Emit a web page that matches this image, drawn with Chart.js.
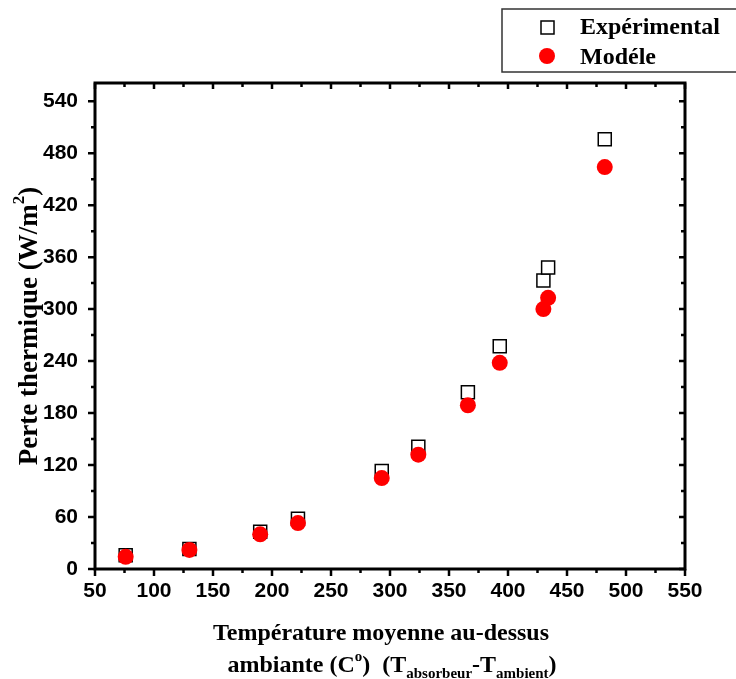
<!DOCTYPE html>
<html>
<head>
<meta charset="utf-8">
<script src="https://cdn.jsdelivr.net/npm/chart.js@4.4.1/dist/chart.umd.min.js"></script>
<style>
  html, body { margin: 0; padding: 0; background: #fff; }
  #wrap { width: 736px; height: 679px; }
</style>
</head>
<body>
<div id="wrap"><canvas id="lossChart" width="736" height="679"></canvas></div>
<script>
const tempDiff = [76, 130, 190, 222, 293, 324, 366, 393, 430, 434, 482];
const experimental = [16, 23, 43, 58, 113, 141, 204, 257, 333, 348, 496];
const modele = [14, 22, 40, 53, 105, 132, 189, 238, 300, 313, 464];
const xTicks = [50, 100, 150, 200, 250, 300, 350, 400, 450, 500, 550];
const yTicks = [0, 60, 120, 180, 240, 300, 360, 420, 480, 540];

const tickFont = { family: 'Liberation Sans', size: 21, weight: 'bold' };
const titleFont = 'bold 24px "Liberation Serif"';
const yTitleFont = 'bold 27px "Liberation Serif"';
const legendFont = 'bold 24px "Liberation Serif"';

// draws text pieces one after the other, some raised or lowered
function drawPieces(ctx, pieces, x, y, align) {
    let total = 0;
    pieces.forEach(p => {
        ctx.font = p.font;
        p.w = ctx.measureText(p.text).width;
        total += p.w;
    });
    let cx = align === 'center' ? x - total / 2 : x;
    pieces.forEach(p => {
        ctx.font = p.font;
        ctx.fillText(p.text, cx, y + (p.dy || 0));
        cx += p.w;
    });
}

const framePlugin = {
    id: 'frame',
    beforeDatasetsDraw(chart) {
        const { ctx, chartArea: a, scales } = chart;
        ctx.save();
        ctx.strokeStyle = '#000';
        ctx.lineWidth = 3;
        ctx.strokeRect(a.left, a.top, a.right - a.left, a.bottom - a.top);
        ctx.lineWidth = 2.5;
        ctx.beginPath();
        for (let v = 50; v <= 550; v += 25) {
            const px = scales.x.getPixelForValue(v);
            const major = v % 50 === 0;
            ctx.moveTo(px, a.bottom);
            ctx.lineTo(px, a.bottom + (major ? 7 : 4));
            ctx.moveTo(px, a.top);
            ctx.lineTo(px, a.top + (major ? 6 : 4));
        }
        for (let v = 0; v <= 540; v += 30) {
            const py = scales.y.getPixelForValue(v);
            const major = v % 60 === 0;
            ctx.moveTo(a.left, py);
            ctx.lineTo(a.left - (major ? 7 : 4), py);
            ctx.moveTo(a.right, py);
            ctx.lineTo(a.right - (major ? 6 : 4), py);
        }
        ctx.stroke();
        ctx.restore();
    },
    afterDraw(chart) {
        const { ctx } = chart;
        const small = 'bold 15px "Liberation Serif"';
        const ySmall = 'bold 17px "Liberation Serif"';
        ctx.save();
        ctx.fillStyle = '#000';
        ctx.textBaseline = 'alphabetic';

        // x title, two lines
        ctx.font = titleFont;
        ctx.textAlign = 'center';
        ctx.fillText('Température moyenne au-dessus', 381, 640);
        ctx.textAlign = 'left';
        drawPieces(ctx, [
            { text: 'ambiante (C', font: titleFont },
            { text: 'o', font: small, dy: -11 },
            { text: ')  (T', font: titleFont },
            { text: 'absorbeur', font: small, dy: 6 },
            { text: '-T', font: titleFont },
            { text: 'ambient', font: small, dy: 6 },
            { text: ')', font: titleFont }
        ], 392, 672, 'center');

        // y title, rotated
        ctx.translate(37, 326);
        ctx.rotate(-Math.PI / 2);
        drawPieces(ctx, [
            { text: 'Perte thermique (W/m', font: yTitleFont },
            { text: '2', font: ySmall, dy: -13 },
            { text: ')', font: yTitleFont }
        ], 0, 0, 'center');
        ctx.restore();

        // legend box
        ctx.save();
        ctx.strokeStyle = '#333';
        ctx.lineWidth = 1.5;
        ctx.strokeRect(502, 9, 250, 63);
        ctx.fillStyle = '#fff';
        ctx.strokeStyle = '#000';
        ctx.lineWidth = 1.5;
        ctx.fillRect(541, 21, 13, 13);
        ctx.strokeRect(541, 21, 13, 13);
        ctx.fillStyle = '#ff0000';
        ctx.beginPath();
        ctx.arc(547, 56, 8, 0, Math.PI * 2);
        ctx.fill();
        ctx.fillStyle = '#000';
        ctx.font = legendFont;
        ctx.textAlign = 'left';
        ctx.textBaseline = 'middle';
        ctx.fillText('Expérimental', 580, 28);
        ctx.fillText('Modéle', 580, 58);
        ctx.restore();
    }
};

const ctx = document.getElementById('lossChart').getContext('2d');

new Chart(ctx, {
    type: 'scatter',
    data: {
        datasets: [{
            label: 'Modéle',
            data: tempDiff.map((t, i) => ({ x: t, y: modele[i] })),
            pointStyle: 'circle',
            pointRadius: 8,
            pointHoverRadius: 8,
            backgroundColor: '#ff0000',
            borderColor: '#ff0000',
            borderWidth: 0,
            order: 0
        }, {
            label: 'Expérimental',
            data: tempDiff.map((t, i) => ({ x: t, y: experimental[i] })),
            pointStyle: 'rect',
            pointRadius: 9.2,
            pointHoverRadius: 9.2,
            backgroundColor: '#fff',
            borderColor: '#000',
            borderWidth: 1.5,
            order: 1
        }]
    },
    options: {
        responsive: false,
        animation: false,
        layout: { padding: { left: 0, right: 51, top: 83, bottom: 0 } },
        plugins: {
            legend: { display: false },
            tooltip: { enabled: false }
        },
        scales: {
            x: {
                type: 'linear',
                min: 50,
                max: 550,
                grid: { display: false, drawTicks: false },
                border: { display: false },
                afterBuildTicks: scale => { scale.ticks = xTicks.map(v => ({ value: v })); },
                afterFit: scale => { scale.height = 110; },
                ticks: { font: tickFont, color: '#000', padding: 10, maxRotation: 0 }
            },
            y: {
                type: 'linear',
                min: 0,
                max: 561,
                grid: { display: false, drawTicks: false },
                border: { display: false },
                afterBuildTicks: scale => { scale.ticks = yTicks.map(v => ({ value: v })); },
                afterFit: scale => { scale.width = 95; },
                ticks: { font: tickFont, color: '#000', padding: 17 }
            }
        }
    },
    plugins: [framePlugin]
});
</script>
</body>
</html>
